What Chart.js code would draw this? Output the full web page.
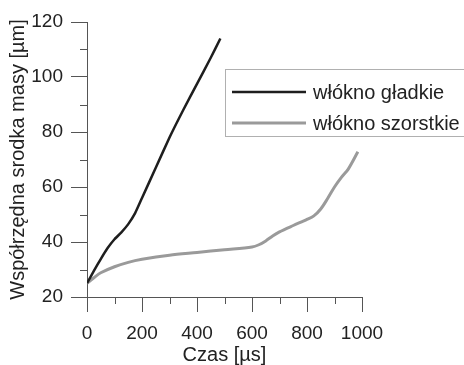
<!DOCTYPE html>
<html>
<head>
<meta charset="utf-8">
<script src="https://cdn.jsdelivr.net/npm/chart.js@4"></script>
<style>
  html, body { margin: 0; padding: 0; background: #fff; }
  #wrap { width: 464px; height: 365px; }
</style>
</head>
<body>
<div id="wrap"><canvas id="chart" width="464" height="365"></canvas></div>
<script>
// data
const smoothX = [0, 25, 50, 75, 100, 125, 150, 175, 200, 250, 300, 350, 400, 450, 485];
const smoothY = [25, 29.5, 33.8, 37.8, 41, 43.5, 46.5, 50.5, 56, 67, 78, 88, 97.5, 107, 114];

const roughX = [0, 25, 50, 100, 150, 200, 300, 400, 500, 600, 625, 650, 675, 700, 750, 800, 825, 850, 875, 900, 925, 950, 985];
const roughY = [25, 27, 28.8, 31, 32.6, 33.7, 35.2, 36.2, 37.2, 38.2, 39, 40.4, 42.2, 43.7, 46, 48.2, 49.5, 52, 55.8, 60, 63.5, 66.5, 72.8];

const seriesNames = ['włókno gładkie', 'włókno szorstkie'];
const seriesColors = ['#1e1e1e', '#9a9a9a'];

const xTitle = 'Czas [µs]';
const yTitle = 'Współrzędna srodka masy [µm]';

const FONT = 'Arial, "Liberation Sans", sans-serif';

function toPoints(xs, ys) {
  return xs.map((x, i) => ({ x: x, y: ys[i] }));
}

// minor ticks (half length) between the major ones
const minorTicks = {
  id: 'minorTicks',
  afterDraw(chart) {
    const ctx = chart.ctx;
    const xs = chart.scales.x, ys = chart.scales.y;
    ctx.save();
    ctx.strokeStyle = '#555';
    ctx.lineWidth = 1;
    ctx.beginPath();
    for (let v = 100; v < 1000; v += 200) {
      const px = Math.round(xs.getPixelForValue(v)) + 0.5;
      ctx.moveTo(px, ys.bottom);
      ctx.lineTo(px, ys.bottom + 7);
    }
    for (let v = 30; v < 120; v += 20) {
      const py = Math.round(ys.getPixelForValue(v)) + 0.5;
      ctx.moveTo(xs.left, py);
      ctx.lineTo(xs.left - 7, py);
    }
    ctx.stroke();
    ctx.restore();
  }
};

// boxed legend in the upper right
const boxLegend = {
  id: 'boxLegend',
  afterDraw(chart) {
    const ctx = chart.ctx;
    ctx.save();
    ctx.strokeStyle = '#b0b0b0';
    ctx.lineWidth = 1;
    ctx.strokeRect(225.5, 69.5, 300, 67);
    ctx.font = '20px ' + FONT;
    ctx.textBaseline = 'middle';
    chart.data.datasets.forEach((ds, i) => {
      const y = 92 + i * 31;
      ctx.strokeStyle = ds.borderColor;
      ctx.lineWidth = ds.borderWidth;
      ctx.beginPath();
      ctx.moveTo(232, y);
      ctx.lineTo(306, y);
      ctx.stroke();
      ctx.fillStyle = '#222';
      ctx.fillText(ds.label, 313, y + 1);
    });
    ctx.restore();
  }
};

new Chart(document.getElementById('chart'), {
  type: 'scatter',
  data: {
    datasets: [
      {
        label: seriesNames[0],
        data: toPoints(smoothX, smoothY),
        showLine: true,
        borderColor: seriesColors[0],
        borderWidth: 2.5,
        pointRadius: 0,
        tension: 0.15
      },
      {
        label: seriesNames[1],
        data: toPoints(roughX, roughY),
        showLine: true,
        borderColor: seriesColors[1],
        borderWidth: 3,
        pointRadius: 0,
        tension: 0.3
      }
    ]
  },
  options: {
    responsive: false,
    animation: false,
    layout: { padding: { top: 22, right: 102, left: 0, bottom: 0 } },
    plugins: {
      legend: { display: false },
      tooltip: { enabled: false }
    },
    scales: {
      x: {
        type: 'linear',
        min: 0,
        max: 1000,
        afterFit(scale) { scale.height = 68; },
        ticks: {
          stepSize: 200, color: '#222', padding: 10,
          font: { family: FONT, size: 19 },
          callback: (v) => String(v)
        },
        grid: { drawOnChartArea: false, drawTicks: true, tickLength: 15, color: '#555' },
        border: { color: '#555', width: 1 },
        title: { display: true, text: xTitle, color: '#222', padding: { top: 0, bottom: -2 }, font: { family: FONT, size: 20 } }
      },
      y: {
        type: 'linear',
        min: 20,
        max: 120,
        afterFit(scale) { scale.width = 87; },
        ticks: { stepSize: 20, color: '#222', padding: 8, font: { family: FONT, size: 19 } },
        grid: { drawOnChartArea: false, drawTicks: true, tickLength: 16, color: '#555' },
        border: { color: '#555', width: 1 },
        title: { display: true, text: yTitle, color: '#222', padding: { top: 6, bottom: 0 }, font: { family: FONT, size: 20 } }
      }
    }
  },
  plugins: [minorTicks, boxLegend]
});
</script>
</body>
</html>
